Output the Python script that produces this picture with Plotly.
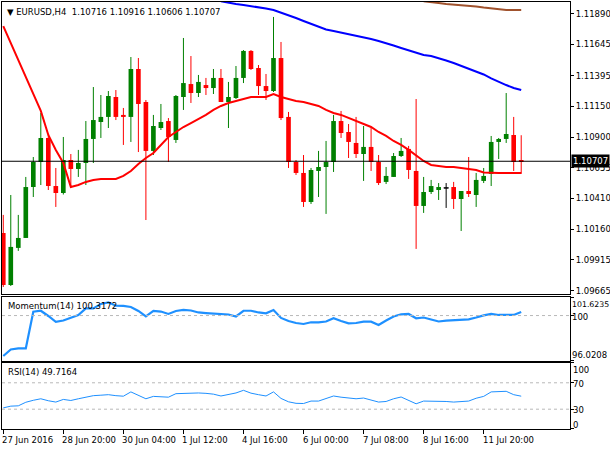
import plotly.graph_objects as go
from plotly.subplots import make_subplots

# ---------------- data ----------------
symbol = "EURUSD,H4"
bar_index = list(range(70))
x_tick_pos = [0, 8, 16, 24, 32, 40, 48, 56, 64]
x_tick_text = ["27 Jun 2016", "28 Jun 20:00", "30 Jun 04:00", "1 Jul 12:00", "4 Jul 16:00",
               "6 Jul 00:00", "7 Jul 08:00", "8 Jul 16:00", "11 Jul 20:00"]

open_ = [1.10131, 1.09713, 1.10011, 1.10091, 1.10500, 1.10701, 1.10894, 1.10508, 1.10452, 1.10717,
         1.10645, 1.10693, 1.10886, 1.11022, 1.11063, 1.11223, 1.11079, 1.11063, 1.11448, 1.11183,
         1.10790, 1.10974, 1.11030, 1.10878, 1.11223, 1.11327, 1.11255, 1.11319, 1.11295, 1.11376,
         1.11183, 1.11215, 1.11376, 1.11593, 1.11456, 1.11311, 1.11271, 1.11536, 1.11063, 1.10701,
         1.10613, 1.10380, 1.10629, 1.10661, 1.10701, 1.11030, 1.10942, 1.10854, 1.10765, 1.10822,
         1.10701, 1.10541, 1.10581, 1.10749, 1.10806, 1.10629, 1.10348, 1.10460, 1.10484, 1.10492,
         1.10500, 1.10404, 1.10468, 1.10436, 1.10549, 1.10605, 1.10862, 1.10886, 1.10918, 1.10716]
high = [1.10276, 1.10436, 1.10276, 1.10581, 1.10741, 1.11095, 1.10918, 1.10653, 1.10902, 1.10765,
        1.10798, 1.11030, 1.11303, 1.11239, 1.11271, 1.11279, 1.11135, 1.11544, 1.11536, 1.11199,
        1.11079, 1.11167, 1.11054, 1.11239, 1.11697, 1.11552, 1.11400, 1.11376, 1.11448, 1.11448,
        1.11344, 1.11472, 1.11600, 1.11600, 1.11480, 1.11408, 1.11866, 1.11665, 1.11103, 1.10717,
        1.10757, 1.10653, 1.10790, 1.10870, 1.11079, 1.11111, 1.11006, 1.11063, 1.10990, 1.10974,
        1.10757, 1.10661, 1.10773, 1.10894, 1.10830, 1.11207, 1.10581, 1.10557, 1.10532, 1.10532,
        1.10541, 1.10468, 1.10741, 1.10613, 1.10653, 1.10910, 1.10894, 1.11255, 1.11063, 1.10916]
low = [1.09697, 1.09705, 1.09987, 1.10091, 1.10420, 1.10516, 1.10476, 1.10340, 1.10440, 1.10492,
       1.10581, 1.10516, 1.10693, 1.10894, 1.10974, 1.11038, 1.10838, 1.10862, 1.10781, 1.10235,
       1.10757, 1.10958, 1.10701, 1.10854, 1.11119, 1.11175, 1.11223, 1.11239, 1.11247, 1.11183,
       1.10974, 1.11207, 1.11335, 1.11440, 1.11239, 1.11199, 1.11263, 1.11038, 1.10653, 1.10597,
       1.10340, 1.10364, 1.10420, 1.10284, 1.10621, 1.10894, 1.10733, 1.10733, 1.10549, 1.10629,
       1.10516, 1.10524, 1.10581, 1.10741, 1.10565, 1.10003, 1.10292, 1.10444, 1.10396, 1.10332,
       1.10324, 1.10147, 1.10420, 1.10340, 1.10532, 1.10508, 1.10725, 1.10854, 1.10629, 1.10606]
close = [1.09713, 1.10019, 1.10091, 1.10500, 1.10701, 1.10894, 1.10508, 1.10452, 1.10717, 1.10645,
         1.10693, 1.10886, 1.11038, 1.11063, 1.11231, 1.11063, 1.11063, 1.11448, 1.11167, 1.10790,
         1.10990, 1.11022, 1.10902, 1.11231, 1.11335, 1.11255, 1.11344, 1.11295, 1.11376, 1.11183,
         1.11223, 1.11376, 1.11593, 1.11448, 1.11311, 1.11271, 1.11536, 1.11054, 1.10701, 1.10613,
         1.10380, 1.10637, 1.10661, 1.10701, 1.11030, 1.10934, 1.10862, 1.10765, 1.10822, 1.10701,
         1.10532, 1.10589, 1.10749, 1.10790, 1.10637, 1.10348, 1.10460, 1.10508, 1.10500, 1.10492,
         1.10404, 1.10468, 1.10444, 1.10557, 1.10589, 1.10862, 1.10886, 1.10926, 1.10701, 1.10707]

ma_red = [1.11793, 1.11657, 1.11520, 1.11384, 1.11239, 1.11111, 1.10918, 1.10798, 1.10693, 1.10500,
          1.10516, 1.10541, 1.10557, 1.10565, 1.10565, 1.10565, 1.10589, 1.10629, 1.10685, 1.10733,
          1.10773, 1.10838, 1.10902, 1.10942, 1.10982, 1.11014, 1.11046, 1.11079, 1.11119, 1.11151,
          1.11175, 1.11191, 1.11207, 1.11223, 1.11223, 1.11223, 1.11247, 1.11223, 1.11207, 1.11191,
          1.11183, 1.11167, 1.11151, 1.11119, 1.11095, 1.11079, 1.11054, 1.11030, 1.11006, 1.10982,
          1.10942, 1.10910, 1.10870, 1.10838, 1.10798, 1.10757, 1.10709, 1.10677, 1.10669, 1.10661,
          1.10661, 1.10653, 1.10645, 1.10637, 1.10617, 1.10613, 1.10613, 1.10613, 1.10613, 1.10613]
ma_blue = [None] * 29 + [
    1.11992, 1.11978, 1.11970, 1.11962, 1.11954, 1.11946, 1.11934, 1.11922, 1.11902, 1.11882,
    1.11857, 1.11833, 1.11809, 1.11785, 1.11765, 1.11753, 1.11741, 1.11729, 1.11717, 1.11705,
    1.11689, 1.11673, 1.11657, 1.11637, 1.11617, 1.11597, 1.11576, 1.11560, 1.11552, 1.11536,
    1.11516, 1.11496, 1.11472, 1.11448, 1.11424, 1.11404, 1.11372, 1.11344, 1.11319, 1.11295,
    1.11279]
ma_brown = [None] * 56 + [
    1.11992, 1.11982, 1.11978, 1.11970, 1.11966, 1.11962, 1.11954, 1.11950, 1.11942, 1.11934,
    1.11926, 1.11922, 1.11922, 1.11922]

momentum = [96.46, 97.03, 97.12, 97.12, 100.34, 100.42, 99.96, 99.44, 99.57, 99.79,
            100.05, 100.63, 100.63, 101.01, 101.16, 100.86, 100.84, 100.75, 100.40, 99.92,
            100.40, 100.35, 100.14, 100.40, 100.49, 100.44, 100.27, 100.22, 100.18, 100.14,
            100.09, 99.92, 100.42, 100.42, 100.27, 100.20, 100.49, 99.79, 99.52, 99.35,
            99.26, 99.41, 99.41, 99.48, 99.76, 99.52, 99.32, 99.35, 99.46, 99.46,
            99.17, 99.57, 99.92, 100.11, 100.14, 99.76, 99.83, 99.65, 99.48, 99.55,
            99.61, 99.64, 99.67, 99.83, 100.02, 100.14, 100.05, 100.05, 100.05, 100.3172]
rsi = [32.0, 34.6, 35.1, 40.5, 43.5, 45.8, 42.8, 40.8, 44.8, 43.2,
       45.8, 48.2, 50.5, 51.2, 52.0, 50.5, 49.7, 56.2, 51.2, 45.8,
       49.4, 48.5, 48.2, 53.5, 54.0, 54.3, 54.6, 54.0, 52.8, 50.0,
       52.3, 54.6, 58.6, 54.3, 52.0, 50.0, 56.2, 46.3, 41.2, 38.9,
       38.6, 42.3, 42.3, 45.8, 50.0, 48.2, 46.6, 45.8, 46.9, 43.8,
       40.8, 41.7, 45.8, 48.5, 43.5, 38.2, 42.3, 42.3, 42.0, 41.7,
       40.8, 41.5, 42.3, 46.6, 49.4, 56.2, 56.6, 57.1, 52.0, 49.7164]

price_ticks = [1.11890, 1.11645, 1.11395, 1.11150, 1.10900, 1.10655, 1.10410, 1.10160, 1.09915, 1.09665]
price_range = [1.09641, 1.11986]
mom_ticks = [101.6235, 100, 96.0208]
mom_tick_text = ["101.6235", "100", "96.0208"]
mom_label_shift = [-7, -1, 6]
mom_level = 100
rsi_ticks = [100, 70, 30, 0]
rsi_tick_text = ["100", "70", "30", "0"]
rsi_label_shift = [-7, -1, -1, 4]
rsi_levels = [70, 30]
x_range = [-0.17, 75.5]

# ---------------- styles ----------------
GREEN = "#008000"
RED = "#FF0000"
BLACK = "#000000"
FONT = "DejaVu Sans"
FS = 8.5

fig = make_subplots(rows=3, cols=1, shared_xaxes=True)

# candle bodies
body_base, body_h, body_col, body_lw = [], [], [], []
for o, c in zip(open_, close):
    body_base.append(min(o, c))
    body_h.append(max(abs(c - o), 0.00001))
    if c > o:
        body_col.append(GREEN); body_lw.append(0)
    elif c < o:
        body_col.append(RED); body_lw.append(0)
    else:
        body_col.append(BLACK); body_lw.append(1)

# wicks
for col in (GREEN, RED, BLACK):
    wx, wy = [], []
    for i, h, l, cc in zip(bar_index, high, low, body_col):
        if cc == col:
            wx += [i, i, None]
            wy += [l, h, None]
    fig.add_trace(go.Scatter(x=wx, y=wy, mode="lines", line=dict(color=col, width=1),
                             hoverinfo="skip"), row=1, col=1)

fig.add_trace(go.Bar(x=bar_index, y=body_h, base=body_base, width=0.62,
                     marker=dict(color=body_col, line=dict(color=body_col, width=body_lw))),
              row=1, col=1)

fig.add_trace(go.Scatter(x=bar_index, y=ma_red, mode="lines", line=dict(color="#FF0000", width=2)), row=1, col=1)
fig.add_trace(go.Scatter(x=bar_index, y=ma_blue, mode="lines", line=dict(color="#0000FF", width=2)), row=1, col=1)
fig.add_trace(go.Scatter(x=bar_index, y=ma_brown, mode="lines", line=dict(color="#A0522D", width=2)), row=1, col=1)

fig.add_trace(go.Scatter(x=bar_index, y=momentum, mode="lines", line=dict(color="#1E90FF", width=2.2)), row=2, col=1)
fig.add_trace(go.Scatter(x=bar_index, y=rsi, mode="lines", line=dict(color="#1E90FF", width=1)), row=3, col=1)

# level lines
fig.add_shape(type="line", xref="x domain", x0=0, x1=1, yref="y", y0=close[-1], y1=close[-1],
              line=dict(color=BLACK, width=1))
fig.add_shape(type="line", xref="x2 domain", x0=0, x1=1, yref="y2", y0=mom_level, y1=mom_level,
              line=dict(color="#B8B8B8", width=1, dash="dot"))
for lv in rsi_levels:
    fig.add_shape(type="line", xref="x3 domain", x0=0, x1=1, yref="y3", y0=lv, y1=lv,
                  line=dict(color="#B8B8B8", width=1, dash="dot"))

axis_common = dict(showline=True, mirror=True, linecolor=BLACK, linewidth=1, showgrid=False,
                   zeroline=False, automargin=False)

fig.update_layout(
    template="none", width=610, height=450,
    margin=dict(l=2, r=40, t=2, b=21),
    paper_bgcolor="white", plot_bgcolor="white",
    showlegend=False, barmode="overlay",
    font=dict(family=FONT, size=FS, color=BLACK),
    xaxis=dict(range=x_range, showticklabels=False, ticks="", **axis_common),
    xaxis2=dict(range=x_range, showticklabels=False, ticks="", **axis_common),
    xaxis3=dict(range=x_range, tickmode="array", tickvals=x_tick_pos, showticklabels=False,
                ticks="outside", ticklen=4, tickcolor=BLACK, **axis_common),
    yaxis=dict(domain=[0.3162, 1.0], range=price_range, side="right", tickmode="array",
               tickvals=price_ticks, tickformat=".5f", ticks="outside", ticklen=3,
               tickcolor=BLACK, **axis_common),
    yaxis2=dict(domain=[0.1593, 0.3091], range=[mom_ticks[2], mom_ticks[0]], side="right",
                tickmode="array", tickvals=mom_ticks, showticklabels=False, ticks="outside",
                ticklen=3, tickcolor=BLACK, **axis_common),
    yaxis3=dict(domain=[0.0, 0.1546], range=[0, 100], side="right", tickmode="array",
                tickvals=rsi_ticks, showticklabels=False, ticks="outside", ticklen=3,
                tickcolor=BLACK, **axis_common),
)

ann = []
ann.append(dict(xref="paper", yref="paper", x=0, y=1, xanchor="left", yanchor="top",
                xshift=3, yshift=-3, showarrow=False, align="left",
                text="▼ " + symbol + "\u00a0\u00a0" + " ".join(f"{v:.5f}" for v in
                     (open_[-1], high[-1], low[-1], close[-1]))))
ann.append(dict(xref="paper", yref="y", x=1, y=close[-1], xanchor="left", yanchor="middle",
                xshift=1, showarrow=False, text=f"{close[-1]:.5f}", bgcolor=BLACK,
                font=dict(color="white", family=FONT, size=FS), borderpad=1))
for v, t, s in zip(mom_ticks, mom_tick_text, mom_label_shift):
    ann.append(dict(xref="paper", yref="y2", x=1, y=v, xanchor="left", yanchor="middle",
                    xshift=0, yshift=s, showarrow=False, text=t,
                    font=dict(family=FONT, size=7.8 if len(t) > 7 else FS, color=BLACK)))
for v, t, s in zip(rsi_ticks, rsi_tick_text, rsi_label_shift):
    ann.append(dict(xref="paper", yref="y3", x=1, y=v, xanchor="left", yanchor="middle",
                    xshift=1, yshift=s, showarrow=False, text=t))
for p, t in zip(x_tick_pos, x_tick_text):
    ann.append(dict(xref="x3", yref="paper", x=p, y=0, xanchor="left", yanchor="top",
                    xshift=-3, yshift=-4, showarrow=False, text=t))
ann.append(dict(xref="paper", yref="y2 domain", x=0, y=1, xanchor="left", yanchor="top",
                xshift=4, yshift=-2, showarrow=False, text=f"Momentum(14) {momentum[-1]:.4f}"))
ann.append(dict(xref="paper", yref="y3 domain", x=0, y=1, xanchor="left", yanchor="top",
                xshift=4, yshift=-2, showarrow=False, text=f"RSI(14) {rsi[-1]:.4f}"))
fig.update_layout(annotations=ann)

fig.write_html("out.html", config={"displayModeBar": False},
               post_script="document.body.style.margin='0';")
